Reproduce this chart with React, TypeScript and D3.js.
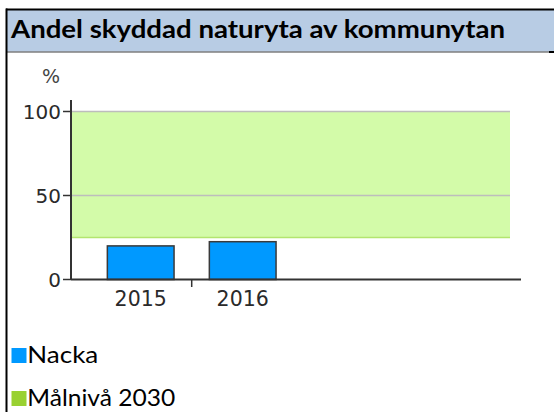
import React from 'react';
import * as d3 from 'd3';

// Chart data
const years = ['2015', '2016'];
const nacka = [20, 22.5];
const targetBand = [25, 100]; // Målnivå 2030, low/high
const yTicks = [0, 50, 100];
const gridTicks = [50, 100];
const legendItems = ['Nacka', 'Målnivå 2030'];
const legendColors = ['#0099ff', '#99d131'];
const legendWidths = [71, 148];
const title = 'Andel skyddad naturyta av kommunytan';

const width = 554;
const height = 412;

const App: React.FC = () => {
  // plot area
  const axisX = 71;
  const plotRight = 510;
  const axisRight = 521;
  const axisTop = 100;

  const y = d3.scaleLinear().domain([0, 100]).range([279.5, 111.5]);

  const x = d3.scaleBand<string>()
    .domain(years)
    .range([89.7, 293.7])
    .paddingInner(0.346)
    .paddingOuter(0.173);

  const gap = (x.step() - x.bandwidth()) / 2;
  const betweenTicks = years.slice(1).map(d => (x(d) as number) - gap);

  const axisFont = '"DejaVu Sans", Verdana, sans-serif';
  const textFont = 'Lato, "Open Sans", sans-serif';

  return (
    <svg
      width={width}
      height={height}
      viewBox={`0 0 ${width} ${height}`}
      style={{ position: 'absolute', left: 0, top: 0, background: '#fff' }}
    >
      {/* header */}
      <rect x={7} y={10} width={width - 7} height={42} fill="#b8cce4" />
      <line x1={6} x2={width} y1={9.5} y2={9.5} stroke="#000" strokeWidth={2} />
      <line x1={7} x2={549} y1={52} y2={52} stroke="#7f7f7f" strokeWidth={1.5} />
      <line x1={549} x2={width} y1={52} y2={52} stroke="#000" strokeWidth={2} />
      <line x1={6.5} x2={6.5} y1={8.5} y2={height} stroke="#000" strokeWidth={2} />
      <text
        x={11}
        y={38.3}
        fontFamily={textFont}
        fontWeight={700}
        fontSize={24}
        fill="#000"
        textLength={494}
        lengthAdjust="spacingAndGlyphs"
      >
        {title}
      </text>

      {/* target band */}
      <rect
        x={axisX}
        y={y(targetBand[1])}
        width={plotRight - axisX}
        height={y(targetBand[0]) - y(targetBand[1])}
        fill="#d3fba9"
      />
      <line
        x1={axisX}
        x2={plotRight}
        y1={y(targetBand[0])}
        y2={y(targetBand[0])}
        stroke="#b3e56f"
        strokeWidth={1.5}
      />
      {gridTicks.map(t => (
        <line key={t} x1={axisX} x2={plotRight} y1={y(t)} y2={y(t)} stroke="#bdbdbd" strokeWidth={1.5} />
      ))}

      {/* bars */}
      {years.map((yr, i) => (
        <rect
          key={yr}
          x={x(yr)}
          y={y(nacka[i])}
          width={x.bandwidth()}
          height={y(0) - y(nacka[i])}
          fill="#0099ff"
          stroke="#3a3a3a"
          strokeWidth={1.5}
        />
      ))}

      {/* y axis */}
      <line x1={axisX} x2={axisX} y1={axisTop} y2={y(0)} stroke="#333" strokeWidth={2} />
      {yTicks.map(t => (
        <g key={t}>
          <line x1={63} x2={axisX} y1={y(t)} y2={y(t)} stroke="#333" strokeWidth={1.5} />
          <text
            x={61}
            y={y(t)}
            dy="0.36em"
            textAnchor="end"
            fontFamily={axisFont}
            fontSize={20}
            fill="#2a2a2a"
          >
            {t}
          </text>
        </g>
      ))}
      <text x={51} y={83} textAnchor="middle" fontFamily={axisFont} fontSize={19} fill="#444">
        %
      </text>

      {/* x axis */}
      <line x1={axisX} x2={axisRight} y1={y(0)} y2={y(0)} stroke="#333" strokeWidth={2} />
      {betweenTicks.map(t => (
        <line key={t} x1={t} x2={t} y1={y(0)} y2={287} stroke="#333" strokeWidth={1.5} />
      ))}
      {years.map(yr => (
        <text
          key={yr}
          x={(x(yr) as number) + x.bandwidth() / 2}
          y={306}
          textAnchor="middle"
          fontFamily={axisFont}
          fontSize={20.5}
          fill="#2a2a2a"
        >
          {yr}
        </text>
      ))}

      {/* legend */}
      {legendItems.map((name, i) => (
        <g key={name} transform={`translate(0,${i * 43})`}>
          <rect x={11.5} y={348} width={15} height={15} fill={legendColors[i]} />
          <text
            x={27.3}
            y={363.3}
            fontFamily={textFont}
            fontSize={24}
            fill="#000"
            textLength={legendWidths[i]}
            lengthAdjust="spacingAndGlyphs"
          >
            {name}
          </text>
        </g>
      ))}
    </svg>
  );
};

export default App;
